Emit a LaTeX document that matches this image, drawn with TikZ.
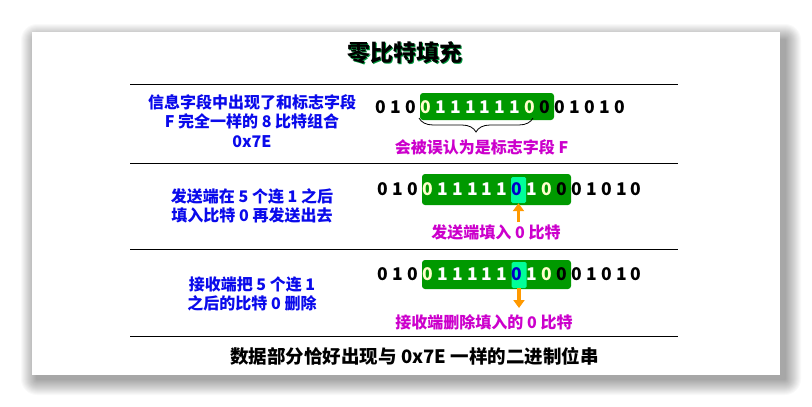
\documentclass[tikz,border=0pt]{standalone}
\usepackage{fontspec}
\newfontfamily\cjk{Noto Sans CJK SC}
\usetikzlibrary{arrows.meta,decorations.pathreplacing}
\definecolor{blueT}{RGB}{10,10,235}
\definecolor{magT}{RGB}{204,0,204}
\definecolor{greenBox}{RGB}{0,153,0}
\definecolor{cyanBox}{RGB}{0,255,153}
\definecolor{orangeA}{RGB}{255,153,0}
\definecolor{pale}{RGB}{255,255,204}
\definecolor{bitBlue}{RGB}{0,0,200}
\definecolor{titleShadow}{RGB}{0,150,60}
\begin{document}
\begin{tikzpicture}[x=1pt,y=-1pt,
  bit/.style={font=\cjk\bfseries\fontsize{17.5}{17.5}\selectfont, inner sep=0pt},
  lefttext/.style={font=\cjk\bfseries\fontsize{16}{19.5}\selectfont, text=blueT, align=center, inner sep=0pt},
  magtext/.style={font=\cjk\bfseries\fontsize{16}{19}\selectfont, text=magT, inner sep=0pt},
  gbox/.style={fill=greenBox, rounded corners=3pt, inner sep=0pt},
  cbox/.style={fill=cyanBox, rounded corners=1.5pt, inner sep=0pt, minimum width=15pt, minimum height=26pt},
  rulel/.style={line width=1pt, black},
  orarrow/.style={orangeA, line width=3.6pt, -{Triangle[width=11pt,length=8pt]}}
]
\useasboundingbox (0,0) rectangle (812,407);
\fill[white] (0,0) rectangle (812,407);
% shadow
\foreach \k in {1,...,16}
  \fill[black,opacity=0.022,rounded corners=\k pt] (37-\k,40-\k) rectangle (785+\k,379+\k);
\node[fill=white, inner sep=0pt, minimum width=748pt, minimum height=343pt] (card) at (406,203.5) {};

% title
\node[font=\cjk\bfseries\fontsize{23}{23}\selectfont, text=titleShadow, inner sep=0pt] (titleS) at (406,54) {零比特填充};
\node[font=\cjk\bfseries\fontsize{23}{23}\selectfont, text=black, inner sep=0pt] (title) at (405,53) {零比特填充};

% rules
\coordinate (l1a) at (130,84);  \coordinate (l1b) at (678,84);
\coordinate (l2a) at (130,163); \coordinate (l2b) at (678,163);
\coordinate (l3a) at (130,249); \coordinate (l3b) at (678,249);
\coordinate (l4a) at (130,336); \coordinate (l4b) at (678,336);
\draw[rulel] (l1a) -- (l1b);
\draw[rulel] (l2a) -- (l2b);
\draw[rulel] (l3a) -- (l3b);
\draw[rulel] (l4a) -- (l4b);

% left texts
\node[lefttext] (t1) at (252,121) {信息字段中出现了和标志字段\\F 完全一样的 8 比特组合\\0x7E};
\node[lefttext] (t2) at (252,206) {发送端在 5 个连 1 之后\\填入比特 0 再发送出去};
\node[lefttext] (t3) at (252,294) {接收端把 5 个连 1\\之后的比特 0 删除};

% row 1
\node[gbox, minimum width=134pt, minimum height=27pt] (g1) at (487,106.5) {};
\foreach \d/\c [count=\i from 0] in {0/black,1/black,0/black,0/pale,1/white,1/white,1/white,1/white,1/white,1/white,0/pale,0/black,0/black,1/black,0/black,1/black,0/black}
  \node[bit,text=\c] (r1b\i) at (381+\i*14.9,107) {\d};
\draw[decorate, decoration={brace, mirror, amplitude=14pt}, line width=0.8pt] (419,118) -- (533,118);
\node[magtext] (m1) at (481.5,147) {会被误认为是标志字段 F};

% row 2
\node[gbox, minimum width=149pt, minimum height=31pt] (g2) at (496.5,189.5) {};
\node[cbox] (c2) at (518.5,190) {};
\foreach \d/\c [count=\i from 0] in {0/black,1/black,0/black,0/pale,1/white,1/white,1/white,1/white,1/white,0/bitBlue,1/white,0/pale,0/black,0/black,1/black,0/black,1/black,0/black}
  \node[bit,text=\c] (r2b\i) at (383+\i*14.9,189) {\d};
\coordinate (a2) at (518.5,222);
\draw[orarrow] (a2) -- (c2.south);
\node[magtext] (m2) at (496,232) {发送端填入 0 比特};

% row 3
\node[gbox, minimum width=149pt, minimum height=29pt] (g3) at (496.5,274.5) {};
\node[cbox] (c3) at (519,275) {};
\foreach \d/\c [count=\i from 0] in {0/black,1/black,0/black,0/pale,1/white,1/white,1/white,1/white,1/white,0/bitBlue,1/white,0/pale,0/black,0/black,1/black,0/black,1/black,0/black}
  \node[bit,text=\c] (r3b\i) at (383+\i*14.9,274) {\d};
\coordinate (a3) at (519,308);
\draw[orarrow] (c3.south) -- (a3);
\node[magtext] (m3) at (484,322) {接收端删除填入的 0 比特};

% bottom
\node[font=\cjk\bfseries\fontsize{18.5}{18.5}\selectfont, inner sep=0pt] (bottom) at (414.5,356) {数据部分恰好出现与 0x7E 一样的二进制位串};
\end{tikzpicture}
\end{document}
